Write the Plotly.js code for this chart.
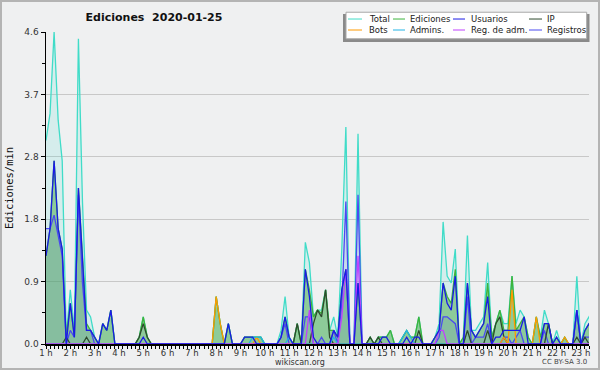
<!DOCTYPE html>
<html><head><meta charset="utf-8">
<script src="https://cdn.plot.ly/plotly-3.0.1.min.js"></script>
<style>
html,body{margin:0;padding:0;background:#eff0f1;}
#frame{width:600px;height:370px;box-sizing:border-box;border:2px solid #b4b4b4;}
#chart{width:596px;height:366px;}
</style></head>
<body><div id="frame"><div id="chart"></div></div>
<script>
// 10-minute bins from 01:00 (one row = one hour)
const total = [
3.0,3.4,4.6,3.3,2.7,0.1, 0.8,0.2,4.5,2.1,0.5,0.4, 0.1,0,0.3,0.2,0.5,0, 0,0,0,0,0,0.1,
0.4,0.1,0,0,0,0, 0,0,0,0,0,0, 0,0,0,0,0,0, 0.7,0.3,0,0.3,0,0,
0,0.1,0.1,0.1,0.1,0.1, 0,0,0,0,0.2,0.7, 0.1,0,0.3,0,1.5,1.2, 0.4,0.5,0.5,0.8,0.2,0.4,
0.1,1.4,3.2,0,0,3.1, 0,0,0.1,0,0.1,0.1, 0.1,0.2,0,0,0.1,0.2, 0.1,0.1,0.4,0,0,0,
0.1,0.3,1.8,1.0,0.9,1.4, 0,0.1,1.6,0.2,0.2,0.3, 0.4,1.2,0.1,0.3,0.5,0.3, 0.3,1.0,0.3,0.5,0.4,0.1,
0,0.4,0.1,0.5,0.3,0, 0.2,0,0.1,0,0,1.0, 0,0.3,0.4,0.3,0.2,0.3];
const ediciones = [
1.3,1.7,2.7,1.7,1.4,0.1, 0.6,0.1,2.3,1.2,0.3,0.2, 0.1,0,0.3,0.2,0.5,0, 0,0,0,0,0,0.1,
0.4,0.1,0,0,0,0, 0,0,0,0,0,0, 0,0,0,0,0,0, 0.7,0.3,0,0.3,0,0,
0,0.1,0.1,0.1,0.1,0.1, 0,0,0,0,0.1,0.4, 0.1,0,0.3,0,1.1,0.8, 0.4,0.5,0.45,0.8,0.2,0.2,
0.1,0.8,1.1,0,0,0.9, 0,0,0.1,0,0.1,0.1, 0.1,0.2,0,0,0.1,0.2, 0.1,0.1,0.4,0,0,0,
0.1,0.2,0.9,0.7,0.6,1.1, 0,0.1,0.9,0.2,0.1,0.2, 0.3,0.9,0.1,0.3,0.5,0.2, 0.2,1.0,0.2,0.3,0.4,0.1,
0,0.4,0.1,0.3,0.3,0, 0.1,0,0.1,0,0,0.5, 0,0.2,0.3,0.2,0.2,0.2];
const usuarios = [
1.3,1.7,2.7,1.7,1.4,0, 0.6,0.1,2.3,1.2,0.2,0.2, 0.1,0,0.3,0.2,0.5,0, 0,0,0,0,0,0,
0.1,0,0,0,0,0, 0,0,0,0,0,0, 0,0,0,0,0,0, 0,0,0,0.3,0,0,
0,0.1,0.1,0.1,0,0, 0,0,0,0,0.1,0.4, 0.1,0,0,0,1.1,0.7, 0.1,0,0,0,0,0.2,
0.1,0.8,1.1,0,0,0.9, 0,0,0,0,0,0.1, 0.1,0,0,0,0,0.1, 0,0.1,0.1,0,0,0,
0.1,0.2,0.9,0.6,0.5,1.0, 0,0,0.9,0.2,0.1,0.2, 0.3,0.7,0,0.1,0.1,0.2, 0.2,0.2,0.2,0.2,0.4,0,
0,0,0,0.3,0.3,0, 0.1,0,0,0,0,0.5, 0,0.2,0.3,0.3,0.2,0.2];
const ip = [
0,0,0,0,0,0.1, 0,0,0,0,0.1,0, 0,0,0,0,0,0, 0,0,0,0,0,0.1,
0.3,0.1,0,0,0,0, 0,0,0,0,0,0, 0,0,0,0,0,0, 0,0,0,0,0,0,
0,0,0,0,0,0, 0,0,0,0,0,0, 0,0,0.3,0,0,0, 0.3,0.5,0.4,0.8,0.1,0,
0,0,0,0,0,0, 0,0,0.1,0,0.1,0, 0,0,0,0,0,0, 0,0,0.2,0,0,0,
0,0,0,0,0,0, 0,0,0.2,0,0,0, 0,0.2,0,0.3,0.4,0.1, 0,0,0,0,0,0,
0,0,0,0,0.3,0, 0,0,0,0,0,0.1, 0,0.1,0,0,0,0];
const bots = [
0,0,0,0,0,0, 0,0,0,0,0,0, 0,0,0,0,0,0, 0,0,0,0,0,0,
0,0,0,0,0,0, 0,0,0,0,0,0, 0,0,0,0,0,0, 0.7,0.3,0,0,0,0,
0,0,0,0,0.1,0, 0,0,0,0,0,0, 0,0,0,0,0,0, 0,0,0,0,0,0,
0,0,0,0,0,0, 0,0,0,0,0,0, 0,0,0,0,0,0, 0,0,0,0,0,0,
0,0,0,0,0,0, 0,0,0,0,0,0, 0,0,0,0,0,0.1, 0,0.8,0,0,0,0,
0,0.4,0,0,0,0, 0,0,0.1,0,0,0, 0,0,0,0,0,0];
const admins = [
0,0,0,0,0,0, 0,0,0,0,0,0, 0,0,0,0,0,0, 0,0,0,0,0,0,
0,0,0,0,0,0, 0,0,0,0,0,0, 0,0,0,0,0,0, 0,0,0,0,0,0,
0,0,0,0.1,0.1,0.1, 0,0,0,0,0,0, 0.1,0,0,0,0,0, 0,0,0,0,0,0.1,
0,0,0,0,0,0, 0,0,0,0,0,0, 0,0,0,0,0.1,0.2, 0.1,0,0,0,0,0,
0,0,0,0,0,0, 0,0,0,0,0,0, 0,0,0,0,0,0, 0,0,0,0,0,0,
0,0,0,0,0,0, 0,0,0,0,0,0, 0,0,0,0,0,0];
const regAdm = [
0,0,0,0,0,0, 0,0,0,0,0,0, 0,0,0,0,0,0, 0,0,0,0,0,0,
0,0,0,0,0,0, 0,0,0,0,0,0, 0,0,0,0,0,0, 0,0,0,0,0,0,
0,0,0,0,0,0, 0,0,0,0,0,0, 0,0,0,0,0,0.5, 0,0,0,0,0,0,
0,0.4,1.1,0,0,1.3, 0,0,0,0,0,0, 0,0,0,0,0,0, 0,0,0,0,0,0,
0,0.2,0.2,0,0,0, 0,0,0,0,0,0, 0,0,0,0,0,0, 0,0,0,0,0,0,
0,0,0,0,0,0, 0,0,0,0,0,0, 0,0,0,0,0,0];
const registros = [
1.7,1.7,1.9,1.6,1.3,0, 0.2,0.1,2.2,0.9,0.2,0.2, 0,0,0,0,0,0, 0,0,0,0,0,0,
0,0,0,0,0,0, 0,0,0,0,0,0, 0,0,0,0,0,0, 0,0,0,0,0,0,
0,0,0,0,0,0, 0,0,0,0,0.1,0.3, 0,0,0,0,0.4,0.4, 0,0,0.1,0,0,0.2,
0,0.6,2.1,0,0,2.2, 0,0,0,0,0,0, 0,0,0,0,0,0, 0,0,0,0,0,0,
0,0.1,0.4,0.4,0.35,0.3, 0,0,0.7,0,0.1,0.1, 0.1,0.3,0,0,0,0.1, 0.1,0,0.1,0.2,0,0,
0,0,0,0.2,0,0, 0,0,0,0,0,0.5, 0,0.1,0.1,0.1,0.1,0.1];

const hourTicks = [1,2,3,4,5,6,7,8,9,10,11,12,13,14,15,16,17,18,19,20,21,22,23];
const hourLabels = hourTicks.map(h => h + ' h');
const yTickVals = [0, 0.92, 1.84, 2.76, 3.68, 4.6];
const yTickText = ['0.0','0.9','1.8','2.8','3.7','4.6'];

const names = ['Total','Ediciones','Usuarios','IP','Bots','Admins.','Reg. de adm.','Registros'];
const colors = ['#40dcc8','#3cb43c','#1a1ae6','#2e4a2e','#ff9a00','#22b4e6','#c040ff','#4a4af0'];

function pad(n){return (n<10?'0':'')+n;}
const times = total.map((_, i) => {
  const m = 60 + i*10;
  return '2020-01-25 ' + pad(Math.floor(m/60)) + ':' + pad(m%60);
});

function tr(y, color, opts){
  return Object.assign({x: times, y: y, type:'scatter', mode:'lines',
    line:{color: color, width:1.3}, showlegend:false, hoverinfo:'skip'}, opts||{});
}
const data = [
  tr(total, colors[0], {fill:'tozeroy', fillcolor:'rgba(64,224,208,0.15)', name:names[0]}),
  tr(ediciones, colors[1], {fill:'tozeroy', fillcolor:'rgba(70,170,70,0.5)', name:names[1]}),
  tr(registros, colors[7], {fill:'tozeroy', fillcolor:'rgba(80,80,220,0.10)', name:names[7]}),
  tr(ip, colors[3], {name:names[3]}),
  tr(bots, colors[4], {name:names[4]}),
  tr(admins, colors[5], {name:names[5]}),
  tr(regAdm, colors[6], {name:names[6]}),
  tr(usuarios, colors[2], {name:names[2]})
];

// page pixel -> paper helpers
const PL=46, PW=543, PB=344, PH=312.5;
const px = x => (x-PL)/PW;
const py = y => (PB-y)/PH;

const shapes = [
  {type:'rect', xref:'paper', yref:'paper', x0:px(343), x1:px(589.5), y0:py(41.5), y1:py(13.5),
   fillcolor:'#8a8a8a', line:{width:0}, layer:'above'},
  {type:'rect', xref:'paper', yref:'paper', x0:px(346), x1:px(586.7), y0:py(38.3), y1:py(11.7),
   fillcolor:'#ffffff', line:{color:'#a8a8a8', width:1}, layer:'above'}
];
const annotations = [];
const colLine = [[348,362],[393,405],[453,465],[529,542]];
const colText = [366.5,408,468.5,545];
const rowY = [18.5,29.5];
const legendOrder = [0,1,2,3,4,5,6,7];
legendOrder.forEach((k, j) => {
  const c = j % 4, r = Math.floor(j/4);
  shapes.push({type:'line', xref:'paper', yref:'paper', x0:px(colLine[c][0]), x1:px(colLine[c][1]),
    y0:py(rowY[r]), y1:py(rowY[r]), line:{color:colors[k], width:1}, layer:'above'});
  annotations.push({xref:'paper', yref:'paper', x:px(colText[c]), y:py(rowY[r]), xanchor:'left', yanchor:'middle',
    text:names[k], showarrow:false, font:{family:'DejaVu Sans', size:8.5, color:'#222'}});
});
annotations.push({xref:'paper', yref:'paper', x:px(300), y:py(362.5), xanchor:'center', yanchor:'middle',
  text:'wikiscan.org', showarrow:false, font:{family:'DejaVu Sans', size:8, color:'#333'}});
annotations.push({xref:'paper', yref:'paper', x:px(589), y:py(362.5), xanchor:'right', yanchor:'middle',
  text:'CC BY-SA 3.0', showarrow:false, font:{family:'DejaVu Sans', size:7, color:'#444'}});

const layout = {
  width:596, height:366,
  margin:{l:44, r:9, t:29.5, b:24},
  paper_bgcolor:'#eff0f1', plot_bgcolor:'#eff0f1',
  title:{text:'<b>Ediciones\u00a0 2020-01-25</b>', font:{family:'DejaVu Sans', size:11, color:'#111'},
    xref:'container', yref:'container', x:(154-2)/596, xanchor:'center', y:1-(17-2)/366, yanchor:'middle'},
  xaxis:{type:'date', range:['2020-01-25 01:00','2020-01-25 23:20'],
    tickmode:'array', tickvals:hourTicks.map(h => '2020-01-25 ' + pad(h) + ':00'), ticktext:hourLabels,
    ticks:'outside', ticklen:3, tickcolor:'#000', tickwidth:1, ticklabelstandoff:-3,
    minor:{dtick:600000, tick0:'2020-01-25 01:00', ticks:'outside', ticklen:3, tickcolor:'#000', tickwidth:1},
    showline:true, linecolor:'#000', linewidth:1.5, showgrid:false, zeroline:false,
    tickfont:{family:'DejaVu Sans', size:8.5, color:'#333'}, fixedrange:true},
  yaxis:{range:[0,4.6], tickmode:'array', tickvals:yTickVals, ticktext:yTickText,
    ticks:'outside', ticklen:4, tickcolor:'#000',
    minor:{dtick:0.46, tick0:0, ticks:'outside', ticklen:3, tickcolor:'#000'},
    showline:true, linecolor:'#000', linewidth:1.5, showgrid:true, gridcolor:'#c8c8c8', gridwidth:1,
    zeroline:false, tickfont:{family:'DejaVu Sans', size:9, color:'#333'},
    title:{text:'Ediciones/min', font:{family:'DejaVu Sans Mono', size:10.5, color:'#111'}, standoff:8},
    fixedrange:true},
  shapes:shapes, annotations:annotations
};
Plotly.newPlot('chart', data, layout, {displayModeBar:false, staticPlot:true});
</script></body></html>
